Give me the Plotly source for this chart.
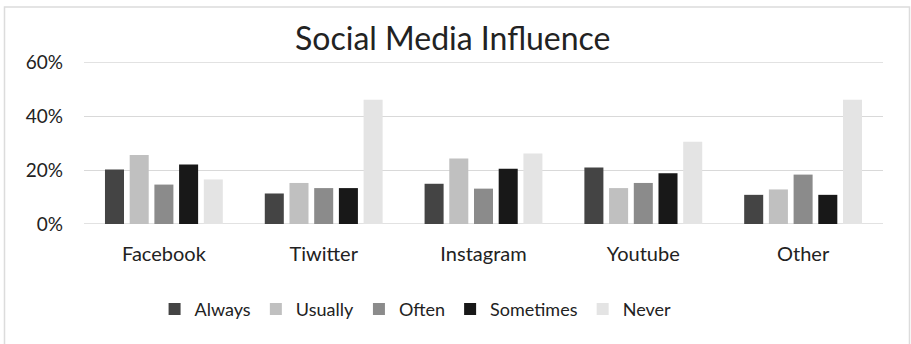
import plotly.graph_objects as go

categories = ["Facebook", "Tiwitter", "Instagram", "Youtube", "Other"]
always = [20.2, 11.3, 14.9, 20.9, 10.8]
usually = [25.6, 15.2, 24.3, 13.3, 12.8]
often = [14.6, 13.3, 13.1, 15.2, 18.3]
sometimes = [22.0, 13.3, 20.5, 18.8, 10.8]
never = [16.5, 46.0, 26.1, 30.5, 46.0]
y_ticks = [0, 20, 40, 60]
y_tick_labels = ["0%", "20%", "40%", "60%"]

series = [
    ("Always", always, "#444444"),
    ("Usually", usually, "#c0c0c0"),
    ("Often", often, "#8b8b8b"),
    ("Sometimes", sometimes, "#181818"),
    ("Never", never, "#e4e4e4"),
]

FONT = "Lato"
TXT = "#222222"
GRID = "#d9d9d9"

fig = go.Figure()
for name, vals, color in series:
    fig.add_trace(go.Bar(
        x=categories, y=vals, name=name,
        marker=dict(color=color, line=dict(width=0)),
    ))

edge_lines = [dict(type="line", xref="paper", yref="y", x0=0, x1=1,
                   y0=v, y1=v, line=dict(color=GRID, width=1.3), layer="below")
              for v in (y_ticks[0], y_ticks[-1])]

fig.update_layout(
    width=911, height=344,
    margin=dict(l=84, r=28, t=62, b=120),
    paper_bgcolor="white", plot_bgcolor="white",
    barmode="group", bargap=0.227, bargroupgap=0.23,
    font=dict(family=FONT, color=TXT),
    title=dict(text="Social Media Influence", x=0.497, xanchor="center",
               y=1 - 39 / 344, yanchor="middle", yref="container",
               font=dict(size=32, family=FONT, color=TXT)),
    showlegend=True,
    legend=dict(orientation="h", x=0.415, xanchor="center", y=-0.527,
                yanchor="middle", font=dict(size=18, family=FONT, color=TXT),
                traceorder="normal", bgcolor="rgba(0,0,0,0)"),
    shapes=[dict(type="rect", xref="paper", yref="paper",
                 x0=(4.5 - 84) / 799, x1=(909.5 - 84) / 799,
                 y0=-1.0, y1=(224 - 7) / 162,
                 line=dict(color="#dcdcdc", width=1.5), layer="below")] + edge_lines,
)
fig.update_yaxes(range=[0, 60], tickvals=y_ticks, ticktext=y_tick_labels,
                 showgrid=True, gridcolor=GRID, gridwidth=1.3,
                 zeroline=False, showline=False,
                 ticklabelstandoff=20,
                 tickfont=dict(size=19, family=FONT, color=TXT))
fig.update_xaxes(showgrid=False, showline=False, zeroline=False,
                 ticklabelstandoff=16,
                 tickfont=dict(size=20, family=FONT, color=TXT))

fig.write_html("out.html")
